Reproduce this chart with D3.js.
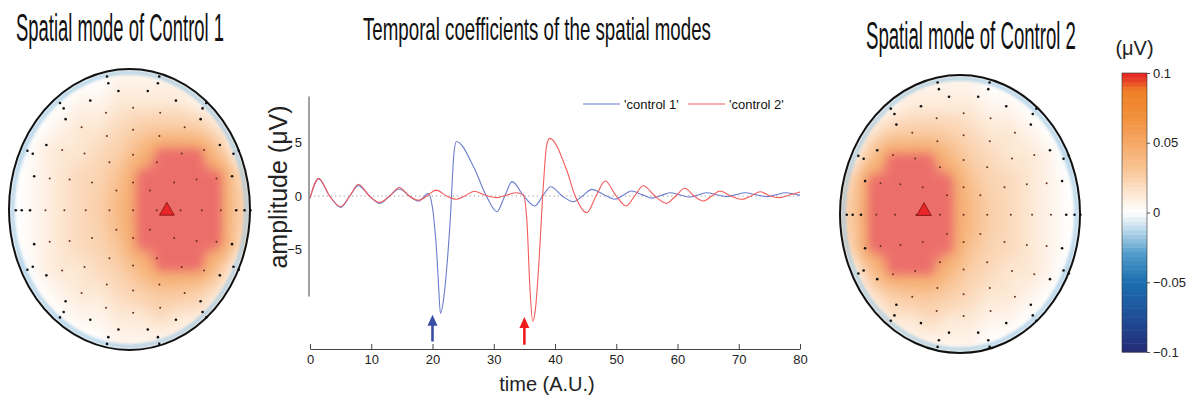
<!DOCTYPE html>
<html>
<head>
<meta charset="utf-8">
<script src="https://cdn.jsdelivr.net/npm/d3@7"></script>
<style>
  body { margin: 0; background: #fff; }
  svg { display: block; font-family: "Liberation Sans", Arial, sans-serif; }
</style>
</head>
<body>
<div id="fig"></div>
<script>
// ---- temporal coefficients ----
const ctrl1Time = [0, 1.4, 3.2, 5.0, 6.5, 7.9, 9.7, 11.4, 13.0, 14.6, 16.2, 17.7, 19.3, 20.0, 20.4, 20.7, 21.0, 21.3, 21.8, 22.3, 22.9, 23.5, 23.9, 26.7, 28.8, 30.5, 31.8, 33.0, 34.9, 36.7, 38.0, 39.3, 41.2, 43.0, 44.5, 46.0, 47.9, 49.8, 51.2, 52.5, 54.2, 55.8, 57.3, 58.8, 60.4, 62.0, 63.4, 64.8, 66.4, 68.0, 69.5, 71.0, 72.8, 74.6, 76.1, 77.6, 80];
const ctrl1Amp = [-0.2, 1.6, 0, -1.06, 0, 0.97, 0, -0.69, 0, 0.65, 0, -0.47, 0.22, -1.1, -3.2, -5.4, -8.5, -10.97, -9.7, -6.9, -2.2, 4.0, 5.1, 2.74, 0, -1.47, 0, 1.34, 0, -0.93, 0, 0.87, 0, -0.53, 0, 0.62, 0.15, -0.3, 0.1, 0.47, 0.13, -0.2, 0.05, 0.3, 0.1, -0.1, 0.1, 0.3, 0.12, -0.06, 0.12, 0.3, 0.12, -0.06, 0.12, 0.3, 0.06];

const ctrl2Time = [0, 1.4, 3.2, 5.0, 6.5, 7.9, 9.7, 11.4, 13.0, 14.6, 16.2, 17.7, 19.1, 20.6, 22.3, 23.9, 25.3, 26.8, 28.5, 30.5, 32.2, 33.7, 34.8, 35.4, 35.9, 36.35, 36.8, 37.3, 38.1, 38.6, 39.1, 41.9, 43.3, 45.2, 46.7, 48.2, 50.0, 51.6, 53.0, 54.4, 56.3, 58.2, 59.7, 61.2, 62.7, 64.2, 65.6, 66.9, 68.7, 70.5, 72.0, 73.5, 75.1, 76.7, 78.3, 80];
const ctrl2Amp = [-0.2, 1.65, 0, -1.0, 0, 1.1, 0, -0.6, 0, 0.8, 0, -0.4, 0, 0.55, 0, -0.3, 0, 0.45, 0.1, -0.15, 0.1, 0.3, 0.15, -2.2, -8.5, -11.7, -10.6, -6.9, 1.0, 4.6, 5.39, 2.43, 0, -1.56, 0, 1.4, 0, -0.93, 0, 0.96, 0, -0.69, 0, 0.72, 0, -0.47, 0, 0.47, 0, -0.31, 0, 0.4, 0, -0.15, 0.1, 0.37];

const seriesNames = ["'control 1'", "'control 2'"];
const xTicks = [0, 10, 20, 30, 40, 50, 60, 70, 80];
const yTicks = [5, 0, -5];
const arrowTimes = [20, 35];
const arrowTips = [-11.1, -11.3];
const arrowBases = [-13.6, -13.9];

// ---- spatial modes: values (uV) on a 12 x 12 grid over each head ----
const mode1Grid = [
  [-0.01, -0.01, -0.01, 0.00, 0.00, 0.01, 0.01, 0.01, 0.01, 0.00, -0.01, -0.01],
  [-0.01, 0.00, 0.00, 0.01, 0.01, 0.02, 0.02, 0.02, 0.02, 0.01, 0.00, -0.01],
  [-0.01, 0.00, 0.01, 0.02, 0.02, 0.03, 0.04, 0.045, 0.045, 0.04, 0.02, -0.01],
  [-0.01, 0.01, 0.02, 0.02, 0.03, 0.04, 0.065, 0.10, 0.10, 0.10, 0.05, 0.00],
  [0.00, 0.01, 0.02, 0.03, 0.035, 0.055, 0.10, 0.10, 0.10, 0.10, 0.10, 0.03],
  [0.00, 0.01, 0.02, 0.03, 0.04, 0.065, 0.10, 0.10, 0.10, 0.10, 0.10, 0.04],
  [0.00, 0.01, 0.02, 0.03, 0.04, 0.065, 0.10, 0.10, 0.10, 0.10, 0.10, 0.04],
  [0.00, 0.01, 0.02, 0.03, 0.035, 0.055, 0.10, 0.10, 0.10, 0.10, 0.10, 0.03],
  [-0.01, 0.01, 0.02, 0.02, 0.03, 0.04, 0.065, 0.10, 0.10, 0.10, 0.05, 0.00],
  [-0.01, 0.00, 0.01, 0.02, 0.02, 0.03, 0.04, 0.05, 0.05, 0.04, 0.02, -0.01],
  [-0.01, 0.00, 0.00, 0.01, 0.01, 0.02, 0.02, 0.03, 0.02, 0.02, 0.00, -0.01],
  [-0.01, -0.01, -0.01, 0.00, 0.00, 0.01, 0.01, 0.01, 0.01, 0.00, -0.01, -0.01]
];
const mode2Grid = [
  [-0.01, -0.01, 0.00, 0.01, 0.01, 0.01, 0.01, 0.00, 0.00, -0.01, -0.01, -0.01],
  [-0.01, 0.00, 0.01, 0.02, 0.02, 0.02, 0.02, 0.01, 0.01, 0.00, 0.00, -0.01],
  [-0.01, 0.02, 0.04, 0.045, 0.045, 0.04, 0.03, 0.02, 0.02, 0.01, 0.00, -0.01],
  [0.00, 0.05, 0.10, 0.10, 0.10, 0.065, 0.04, 0.03, 0.02, 0.02, 0.01, -0.01],
  [0.03, 0.10, 0.10, 0.10, 0.10, 0.10, 0.055, 0.035, 0.03, 0.02, 0.01, 0.00],
  [0.04, 0.10, 0.10, 0.10, 0.10, 0.10, 0.065, 0.04, 0.03, 0.02, 0.01, 0.00],
  [0.04, 0.10, 0.10, 0.10, 0.10, 0.10, 0.065, 0.04, 0.03, 0.02, 0.01, 0.00],
  [0.03, 0.10, 0.10, 0.10, 0.10, 0.10, 0.055, 0.035, 0.03, 0.02, 0.01, 0.00],
  [0.00, 0.05, 0.10, 0.10, 0.10, 0.065, 0.04, 0.03, 0.02, 0.02, 0.01, -0.01],
  [-0.01, 0.02, 0.04, 0.05, 0.05, 0.04, 0.03, 0.02, 0.02, 0.01, 0.00, -0.01],
  [-0.01, 0.00, 0.02, 0.02, 0.03, 0.02, 0.02, 0.01, 0.01, 0.00, 0.00, -0.01],
  [-0.01, -0.01, 0.00, 0.01, 0.01, 0.01, 0.01, 0.00, 0.00, -0.01, -0.01, -0.01]
];
const rimValue = -0.018;
// peak (triangle) position, as a fraction of the head radius
const mode1Peak = [0.31, 0.01];
const mode2Peak = [-0.30, -0.02];
// electrode rings: radius (fraction of head radius) and count
const ringRadius = [0, 0.2, 0.4, 0.58, 0.74, 0.87, 0.94, 0.99];
const ringCount = [1, 8, 12, 16, 20, 22, 14, 14];

const colorTicks = [0.1, 0.05, 0, -0.05, -0.1];
const titles = ["Spatial mode of Control 1", "Temporal coefficients of the spatial modes", "Spatial mode of Control 2"];

// -------------------------------------------------------------
const W = 1197, H = 411;
const svg = d3.select("#fig").append("svg").attr("width", W).attr("height", H);
svg.append("rect").attr("width", W).attr("height", H).attr("fill", "#fff");
const defs = svg.append("defs");

const colorScale = d3.scaleLinear()
  .domain([-0.1, -0.075, -0.05, -0.03, -0.015, 0, 0.015, 0.03, 0.05, 0.07, 0.088, 0.094, 0.1])
  .range(["#262b76", "#1f4d96", "#1b6fae", "#4f9aca", "#acd0e6", "#ffffff", "#fde5cf", "#f9c698", "#f6a866", "#f28f3a", "#ef7f24", "#e8472a", "#e2231f"])
  .clamp(true);

// titles: tall narrow lettering, squeezed horizontally to the measured width
[[16, 41, 208, 39], [363, 40, 348, 32], [866, 49, 210, 39]].forEach((p, i) => {
  const t = svg.append("text")
    .style("font-family", '"Liberation Sans", Arial, sans-serif')
    .style("font-size", p[3] + "px")
    .attr("fill", "#111")
    .text(titles[i]);
  const len = t.node().getComputedTextLength();
  t.attr("transform", `translate(${p[0]},${p[1]}) scale(${p[2] / len},1)`);
});

// ---------------- topographic maps ----------------
defs.append("filter").attr("id", "soft").attr("x", "-5%").attr("y", "-5%").attr("width", "110%").attr("height", "110%")
  .append("feGaussianBlur").attr("stdDeviation", 4.5);
defs.append("filter").attr("id", "rimBlur")
  .append("feGaussianBlur").attr("stdDeviation", 1.5);
defs.append("clipPath").attr("id", "clipL")
  .append("ellipse").attr("cx", 129.5).attr("cy", 209.5).attr("rx", 120.5).attr("ry", 140.5);
defs.append("clipPath").attr("id", "clipR")
  .append("ellipse").attr("cx", 960).attr("cy", 214).attr("rx", 120).attr("ry", 139);

const lut = d3.range(201).map(k => d3.rgb(colorScale(-0.1 + k * 0.001)));
const mapAlpha = 0.66;

function drawMap(head, grid, peak, clipId) {
  const { cx, cy, rx, ry } = head;
  const nR = grid.length, nC = grid[0].length;
  const x0 = cx - rx, y0 = cy - ry;
  const cw = Math.ceil(2 * rx), ch = Math.ceil(2 * ry);
  const colPos = d3.scaleLinear().domain([x0, x0 + 2 * rx]).range([-0.5, nC - 0.5]).clamp(true);
  const rowPos = d3.scaleLinear().domain([y0, y0 + 2 * ry]).range([-0.5, nR - 0.5]).clamp(true);

  const canvas = document.createElement("canvas");
  canvas.width = cw; canvas.height = ch;
  const ctx = canvas.getContext("2d");
  const img = ctx.createImageData(cw, ch);
  for (let j = 0; j < ch; j++) {
    for (let i = 0; i < cw; i++) {
      const px = x0 + i + 0.5, py = y0 + j + 0.5;
      const c = Math.min(Math.max(colPos(px), 0), nC - 1);
      const r = Math.min(Math.max(rowPos(py), 0), nR - 1);
      const c0 = Math.floor(c), r0 = Math.floor(r);
      const c1 = Math.min(c0 + 1, nC - 1), r1 = Math.min(r0 + 1, nR - 1);
      const fc = c - c0, fr = r - r0;
      const v = (grid[r0][c0] * (1 - fc) + grid[r0][c1] * fc) * (1 - fr) +
                (grid[r1][c0] * (1 - fc) + grid[r1][c1] * fc) * fr;
      const k = Math.max(0, Math.min(200, Math.round((v + 0.1) * 1000)));
      const col = lut[k];
      const idx = (j * cw + i) * 4;
      img.data[idx] = 255 - (255 - col.r) * mapAlpha;
      img.data[idx + 1] = 255 - (255 - col.g) * mapAlpha;
      img.data[idx + 2] = 255 - (255 - col.b) * mapAlpha;
      img.data[idx + 3] = 255;
    }
  }
  ctx.putImageData(img, 0, 0);

  const g = svg.append("g");
  g.append("g").attr("clip-path", `url(#${clipId})`)
    .append("image")
    .attr("x", x0).attr("y", y0).attr("width", cw).attr("height", ch)
    .attr("href", canvas.toDataURL())
    .attr("filter", "url(#soft)");

  // pale rim
  g.append("ellipse")
    .attr("cx", cx).attr("cy", cy).attr("rx", rx - 3.5).attr("ry", ry - 3.5)
    .attr("fill", "none")
    .attr("stroke", colorScale(rimValue)).attr("stroke-opacity", 0.7)
    .attr("stroke-width", 4)
    .attr("filter", "url(#rimBlur)");

  // electrodes
  const ecx = cx + 0.03 * rx, ecy = cy + 0.005 * ry;
  const electrodes = [];
  ringRadius.forEach((rr, ri) => {
    const n = ringCount[ri];
    for (let k = 0; k < n; k++) {
      const a = Math.PI + k * 2 * Math.PI / n;
      electrodes.push([ecx + rr * (rx - 2) * Math.cos(a), ecy + rr * (ry - 2) * Math.sin(a), rr]);
    }
  });
  g.selectAll("circle.el").data(electrodes).join("circle")
    .attr("class", "el")
    .attr("cx", d => d[0]).attr("cy", d => d[1])
    .attr("r", d => d[2] > 0.8 ? 1.3 : 1.0)
    .attr("fill", d => d[2] > 0.8 ? "#111" : "#6a3020");

  // peak triangle
  g.append("path")
    .attr("d", d3.symbol(d3.symbolTriangle, 95)())
    .attr("transform", `translate(${cx + peak[0] * rx},${cy + peak[1] * ry})`)
    .attr("fill", "#e8262a").attr("stroke", "#7a1010").attr("stroke-width", 0.8);

  // head outline
  g.append("ellipse")
    .attr("cx", cx).attr("cy", cy).attr("rx", rx).attr("ry", ry)
    .attr("fill", "none").attr("stroke", "#111").attr("stroke-width", 2);
}

drawMap({ cx: 129.5, cy: 209.5, rx: 120.5, ry: 140.5 }, mode1Grid, mode1Peak, "clipL");
drawMap({ cx: 960, cy: 214, rx: 120, ry: 139 }, mode2Grid, mode2Peak, "clipR");

// ---------------- colour bar ----------------
const cbX = 1122, cbW = 25;
const cbScale = d3.scaleLinear().domain([-0.1, 0.1]).range([352, 73]);
const nBands = 64;
const bandStep = 0.2 / nBands;
svg.append("g").selectAll("rect").data(d3.range(nBands)).join("rect")
  .attr("x", cbX).attr("width", cbW)
  .attr("y", k => cbScale(-0.1 + (k + 1) * bandStep))
  .attr("height", k => cbScale(-0.1 + k * bandStep) - cbScale(-0.1 + (k + 1) * bandStep) + 0.5)
  .attr("fill", k => colorScale(-0.1 + (k + 0.5) * bandStep));
svg.append("rect").attr("x", cbX).attr("y", cbScale(0.1)).attr("width", cbW)
  .attr("height", cbScale(-0.1) - cbScale(0.1))
  .attr("fill", "none").attr("stroke", "#333").attr("stroke-width", 0.6);
const cbAxis = svg.append("g")
  .attr("transform", `translate(${cbX + cbW},0)`)
  .call(d3.axisRight(cbScale).tickValues(colorTicks).tickSize(3).tickPadding(3).tickFormat(d3.format("")));
cbAxis.select(".domain").remove();
cbAxis.selectAll("line").attr("stroke", "#555");
cbAxis.selectAll("text").style("font-size", "13px").attr("fill", "#222");
svg.append("text").attr("x", cbX + cbW / 2).attr("y", 55)
  .attr("text-anchor", "middle").style("font-size", "20px").attr("fill", "#222")
  .text("(\u03bcV)");

// ---------------- temporal coefficients ----------------
const x = d3.scaleLinear().domain([0, 80]).range([310, 800]);
const y = d3.scaleLinear().domain([-14.3, 9.3]).range([349, 96.5]);

const series = [
  { name: seriesNames[0], color: "#6b7ccc", pts: ctrl1Time.map((t, i) => ({ t, v: ctrl1Amp[i] })) },
  { name: seriesNames[1], color: "#f45a5a", pts: ctrl2Time.map((t, i) => ({ t, v: ctrl2Amp[i] })) }
];

// zero reference
svg.append("line")
  .attr("x1", x(0)).attr("x2", x(80)).attr("y1", y(0)).attr("y2", y(0))
  .attr("stroke", "#999").attr("stroke-width", 1.2).attr("stroke-dasharray", "1.2,3");

const line = d3.line()
  .curve(d3.curveMonotoneX)
  .x(d => x(d.t))
  .y(d => y(d.v));

svg.append("g").selectAll("path").data(series).join("path")
  .attr("d", d => line(d.pts))
  .attr("fill", "none")
  .attr("stroke", d => d.color)
  .attr("stroke-width", 1.1);

// axes
const xAxis = svg.append("g")
  .attr("transform", `translate(0,${y(-14.3)})`)
  .call(d3.axisBottom(x).tickValues(xTicks).tickSizeInner(-5).tickSizeOuter(0).tickPadding(6));
xAxis.select(".domain").attr("stroke", "#444");
xAxis.selectAll("line").attr("stroke", "#444");
xAxis.selectAll("text").style("font-size", "13px").attr("fill", "#222");

const yAxis = svg.append("g")
  .attr("transform", `translate(${x(0) - 1},0)`)
  .call(d3.axisLeft(y).tickValues(yTicks).tickSize(0).tickPadding(7));
yAxis.select(".domain").remove();
yAxis.append("line").attr("y1", y(9.3)).attr("y2", y(-9.4)).attr("stroke", "#444");
yAxis.selectAll("text").style("font-size", "13px").attr("fill", "#222");

svg.append("text")
  .attr("transform", "translate(547,391)")
  .attr("text-anchor", "middle").style("font-size", "20px").attr("fill", "#222")
  .text("time (A.U.)");
svg.append("text")
  .attr("transform", "translate(287,187) rotate(-90)")
  .attr("text-anchor", "middle").style("font-size", "25px").attr("fill", "#222")
  .text("amplitude (\u03bcV)");

// arrows marking the spike onsets
const arrowColors = ["#3a4ea6", "#f01c1c"];
arrowTimes.forEach((t, i) => {
  const ax = x(t), tip = y(arrowTips[i]), base = y(arrowBases[i]);
  svg.append("line").attr("x1", ax).attr("x2", ax).attr("y1", tip + 8).attr("y2", base)
    .attr("stroke", arrowColors[i]).attr("stroke-width", 2.6);
  svg.append("path")
    .attr("d", `M${ax},${tip} L${ax - 5},${tip + 11} L${ax + 5},${tip + 11} Z`)
    .attr("fill", arrowColors[i]);
});

// legend
const legend = svg.append("g").attr("transform", "translate(583,104)");
series.forEach((s, i) => {
  const lg = legend.append("g").attr("transform", `translate(${i * 105},0)`);
  lg.append("line").attr("x1", 0).attr("x2", 37).attr("stroke", s.color).attr("stroke-width", 1.1);
  lg.append("text").attr("x", 41).attr("y", 4.5).style("font-size", "13px").attr("fill", "#111").text(s.name);
});
</script>
</body>
</html>
